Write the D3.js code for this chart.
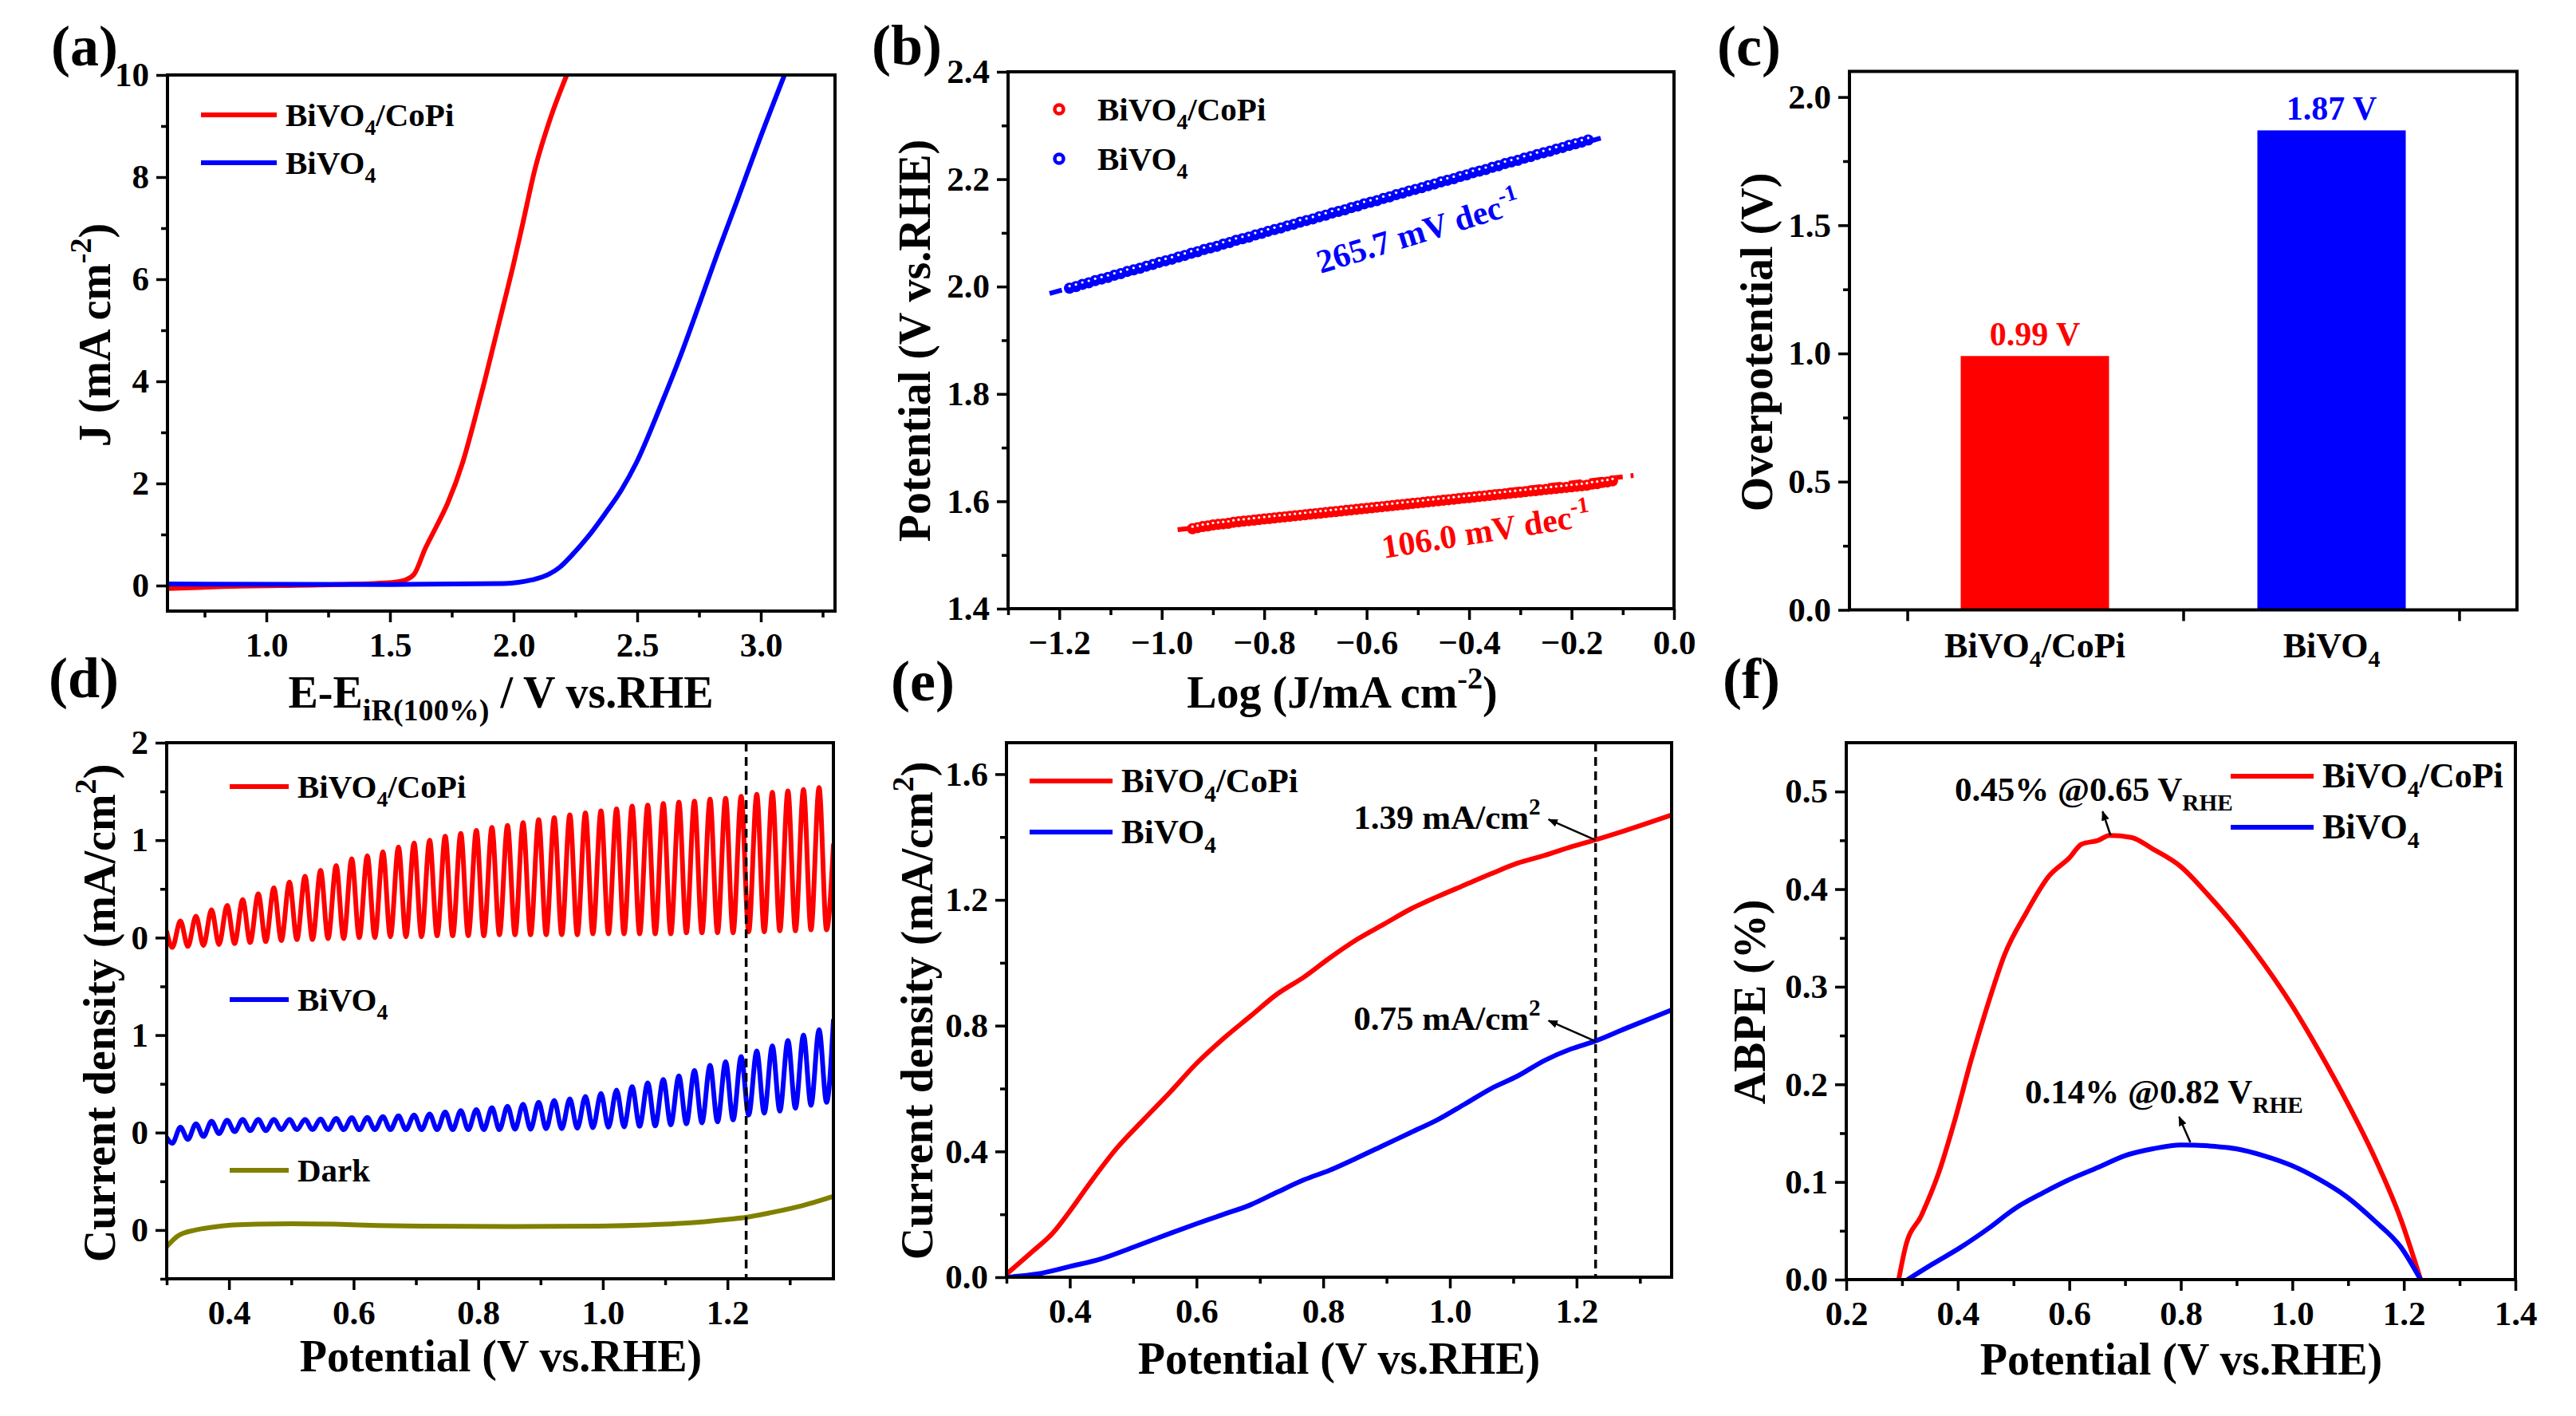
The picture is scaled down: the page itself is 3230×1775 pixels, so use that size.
<!DOCTYPE html>
<html>
<head>
<meta charset="utf-8">
<script src="https://cdn.jsdelivr.net/npm/d3@7"></script>
<style>body{margin:0;background:#fff}</style>
</head>
<body>
<div id="fig"></div>
<script>
// ---------- data ----------
// (a) LSV, J vs E-EiR
const lsvRedV  = [0.6, 0.825, 1.28, 1.506, 1.55, 1.597, 1.642, 1.688, 1.733, 1.794, 1.838, 1.881, 1.921, 1.961, 2.0, 2.037, 2.085, 2.150, 2.215];
const lsvRedJ  = [-0.06, -0.02, 0.02, 0.06, 0.09, 0.22, 0.72, 1.16, 1.61, 2.41, 3.17, 3.97, 4.75, 5.53, 6.30, 7.09, 8.13, 9.17, 10.0];
const lsvBlueV = [0.6, 1.506, 1.96, 2.074, 2.142, 2.187, 2.233, 2.30, 2.369, 2.437, 2.497, 2.593, 2.679, 2.754, 2.824, 2.905, 2.992, 3.094];
const lsvBlueJ = [0.03, 0.02, 0.04, 0.11, 0.22, 0.36, 0.58, 0.95, 1.40, 1.88, 2.41, 3.50, 4.55, 5.55, 6.50, 7.55, 8.70, 9.98];

// (b) Tafel
const tafBlueLogJ = [-1.18, -1.1675, -1.155, -1.1425, -1.13, -1.1175, -1.105, -1.0925, -1.08, -1.0675, -1.055, -1.0425, -1.03, -1.0175, -1.005, -0.9925, -0.98, -0.9675, -0.955, -0.9425, -0.93, -0.9175, -0.905, -0.8925, -0.88, -0.8675, -0.855, -0.8425, -0.83, -0.8175, -0.805, -0.7925, -0.78, -0.7675, -0.755, -0.7425, -0.73, -0.7175, -0.705, -0.6925, -0.68, -0.6675, -0.655, -0.6425, -0.63, -0.6175, -0.605, -0.5925, -0.58, -0.5675, -0.555, -0.5425, -0.53, -0.5175, -0.505, -0.4925, -0.48, -0.4675, -0.455, -0.4425, -0.43, -0.4175, -0.405, -0.3925, -0.38, -0.3675, -0.355, -0.3425, -0.33, -0.3175, -0.305, -0.2925, -0.28, -0.2675, -0.255, -0.2425, -0.23, -0.2175, -0.205, -0.1925, -0.18, -0.1675];
const tafBlueE    = [1.997, 2.000, 2.004, 2.007, 2.011, 2.014, 2.017, 2.021, 2.024, 2.028, 2.031, 2.034, 2.038, 2.041, 2.045, 2.048, 2.051, 2.055, 2.058, 2.062, 2.065, 2.069, 2.072, 2.075, 2.079, 2.082, 2.086, 2.089, 2.092, 2.096, 2.099, 2.103, 2.106, 2.109, 2.113, 2.116, 2.120, 2.123, 2.126, 2.130, 2.133, 2.137, 2.140, 2.143, 2.147, 2.150, 2.154, 2.157, 2.160, 2.164, 2.167, 2.171, 2.174, 2.178, 2.181, 2.184, 2.188, 2.191, 2.195, 2.198, 2.201, 2.205, 2.208, 2.212, 2.215, 2.218, 2.222, 2.225, 2.229, 2.232, 2.235, 2.239, 2.242, 2.246, 2.249, 2.252, 2.256, 2.259, 2.263, 2.266, 2.269, 2.273];
const tafRedLogJ  = [-0.94, -0.93, -0.92, -0.91, -0.90, -0.89, -0.88, -0.87, -0.86, -0.85, -0.84, -0.83, -0.82, -0.81, -0.80, -0.79, -0.78, -0.77, -0.76, -0.75, -0.74, -0.73, -0.72, -0.71, -0.70, -0.69, -0.68, -0.67, -0.66, -0.65, -0.64, -0.63, -0.62, -0.61, -0.60, -0.59, -0.58, -0.57, -0.56, -0.55, -0.54, -0.53, -0.52, -0.51, -0.50, -0.49, -0.48, -0.47, -0.46, -0.45, -0.44, -0.43, -0.42, -0.41, -0.40, -0.39, -0.38, -0.37, -0.36, -0.35, -0.34, -0.33, -0.32, -0.31, -0.30, -0.29, -0.28, -0.27, -0.26, -0.25, -0.24, -0.23, -0.22, -0.21, -0.20, -0.19, -0.18, -0.17, -0.16, -0.15, -0.14, -0.13, -0.12];
const tafRedE     = [1.549, 1.551, 1.553, 1.554, 1.556, 1.557, 1.558, 1.559, 1.561, 1.562, 1.563, 1.564, 1.565, 1.566, 1.567, 1.568, 1.569, 1.570, 1.571, 1.572, 1.573, 1.574, 1.575, 1.576, 1.577, 1.578, 1.579, 1.580, 1.581, 1.582, 1.583, 1.584, 1.585, 1.586, 1.587, 1.588, 1.589, 1.590, 1.591, 1.592, 1.593, 1.594, 1.595, 1.596, 1.597, 1.598, 1.599, 1.600, 1.601, 1.602, 1.603, 1.604, 1.605, 1.606, 1.607, 1.608, 1.609, 1.610, 1.611, 1.612, 1.613, 1.614, 1.615, 1.616, 1.617, 1.618, 1.619, 1.620, 1.621, 1.622, 1.623, 1.624, 1.625, 1.626, 1.627, 1.628, 1.629, 1.630, 1.632, 1.633, 1.635, 1.636, 1.638];
const fitBlue = [[-1.219, 1.987], [-0.141, 2.277]];
const fitRed  = [[-0.969, 1.547], [-0.079, 1.648]];
const tafelLabels = ['265.7 mV dec', '106.0 mV dec'];

// (c) overpotential
const barNames  = ['BiVO4/CoPi', 'BiVO4'];
const barValues = [0.99, 1.87];
const barLabels = ['0.99 V', '1.87 V'];

// (d) chopped LSV (offset plot)
const chopPeakV   = [0.322, 0.347, 0.372, 0.397, 0.422, 0.447, 0.472, 0.497, 0.522, 0.547, 0.572, 0.597, 0.622, 0.647, 0.672, 0.697, 0.722, 0.747, 0.772, 0.797, 0.822, 0.847, 0.872, 0.897, 0.922, 0.947, 0.972, 0.997, 1.022, 1.047, 1.072, 1.097, 1.122, 1.147, 1.172, 1.197, 1.222, 1.247, 1.272, 1.297, 1.322, 1.347];
const chopValleyV = [0.309, 0.334, 0.359, 0.384, 0.409, 0.434, 0.459, 0.484, 0.509, 0.534, 0.559, 0.584, 0.609, 0.634, 0.659, 0.684, 0.709, 0.734, 0.759, 0.784, 0.809, 0.834, 0.859, 0.884, 0.909, 0.934, 0.959, 0.984, 1.009, 1.034, 1.059, 1.084, 1.109, 1.134, 1.159, 1.184, 1.209, 1.234, 1.259, 1.284, 1.309, 1.334, 1.359];
const chopRedPeak  = [0.17, 0.22, 0.285, 0.33, 0.39, 0.45, 0.51, 0.57, 0.63, 0.69, 0.74, 0.81, 0.84, 0.88, 0.93, 0.97, 1.00, 1.04, 1.07, 1.10, 1.13, 1.15, 1.18, 1.21, 1.23, 1.26, 1.28, 1.30, 1.32, 1.35, 1.36, 1.375, 1.39, 1.40, 1.42, 1.43, 1.45, 1.47, 1.49, 1.505, 1.52, 1.54];
const chopRedValley = [-0.10, -0.09, -0.08, -0.07, -0.06, -0.05, -0.04, -0.03, -0.02, -0.02, -0.01, -0.01, 0.00, 0.00, 0.01, 0.01, 0.01, 0.02, 0.02, 0.02, 0.02, 0.03, 0.03, 0.03, 0.03, 0.03, 0.03, 0.04, 0.04, 0.04, 0.04, 0.04, 0.04, 0.05, 0.05, 0.05, 0.05, 0.06, 0.06, 0.07, 0.07, 0.08, 0.08];
const chopBluePeak = [0.055, 0.09, 0.116, 0.127, 0.135, 0.135, 0.135, 0.135, 0.135, 0.138, 0.145, 0.153, 0.156, 0.164, 0.171, 0.18, 0.19, 0.21, 0.225, 0.236, 0.255, 0.27, 0.29, 0.31, 0.33, 0.345, 0.37, 0.40, 0.436, 0.47, 0.51, 0.545, 0.58, 0.636, 0.69, 0.727, 0.78, 0.836, 0.89, 0.945, 1.0, 1.055];
const chopBlueValley = [-0.11, -0.07, -0.04, -0.01, 0.01, 0.02, 0.02, 0.03, 0.03, 0.03, 0.03, 0.03, 0.03, 0.03, 0.03, 0.03, 0.03, 0.03, 0.03, 0.03, 0.03, 0.03, 0.035, 0.035, 0.04, 0.04, 0.045, 0.05, 0.055, 0.06, 0.065, 0.07, 0.08, 0.09, 0.10, 0.11, 0.13, 0.18, 0.20, 0.22, 0.25, 0.28, 0.31];
const chopEnds = {start: 0.30, end: 1.37, redStart: 0.06, redEnd: 0.95, blueStart: -0.05, blueEnd: 1.15};
const darkV = [0.30, 0.318, 0.346, 0.374, 0.402, 0.444, 0.50, 0.57, 0.64, 0.71, 0.85, 0.99, 1.061, 1.131, 1.201, 1.229, 1.271, 1.32, 1.367];
const darkJ = [-0.17, -0.06, 0.0, 0.03, 0.05, 0.06, 0.065, 0.06, 0.047, 0.04, 0.036, 0.04, 0.05, 0.07, 0.11, 0.13, 0.18, 0.25, 0.34];
const dOffset = {dark: 0, blue: 1, red: 3};
const dTickLabels = ['0', '0', '1', '0', '1', '2'];

// (e) LSV under light
const eRedV  = [0.3, 0.34, 0.373, 0.4, 0.432, 0.474, 0.516, 0.559, 0.60, 0.643, 0.685, 0.727, 0.77, 0.81, 0.854, 0.896, 0.938, 0.98, 1.023, 1.065, 1.107, 1.15, 1.19, 1.228, 1.276, 1.35];
const eRedJ  = [0.01, 0.08, 0.14, 0.21, 0.30, 0.41, 0.50, 0.59, 0.68, 0.76, 0.83, 0.90, 0.955, 1.015, 1.075, 1.123, 1.171, 1.21, 1.247, 1.283, 1.317, 1.342, 1.368, 1.39, 1.42, 1.47];
const eBlueV = [0.3, 0.348, 0.4, 0.449, 0.5, 0.559, 0.60, 0.643, 0.685, 0.727, 0.77, 0.81, 0.854, 0.896, 0.938, 0.98, 1.023, 1.065, 1.107, 1.15, 1.19, 1.228, 1.276, 1.35];
const eBlueJ = [0.0, 0.01, 0.034, 0.058, 0.095, 0.14, 0.17, 0.20, 0.23, 0.27, 0.31, 0.34, 0.38, 0.42, 0.46, 0.50, 0.55, 0.60, 0.64, 0.69, 0.725, 0.75, 0.79, 0.85];
const eMarks = [{v: 1.23, j: 1.39, label: '1.39 mA/cm'}, {v: 1.23, j: 0.75, label: '0.75 mA/cm'}];

// (f) ABPE
const fRedV  = [0.294, 0.306, 0.335, 0.365, 0.395, 0.424, 0.454, 0.484, 0.523, 0.563, 0.60, 0.622, 0.652, 0.672, 0.711, 0.75, 0.80, 0.849, 0.899, 0.948, 0.998, 1.047, 1.097, 1.146, 1.195, 1.23];
const fRedA  = [0, 0.033, 0.066, 0.108, 0.164, 0.225, 0.282, 0.333, 0.376, 0.413, 0.432, 0.446, 0.45, 0.455, 0.453, 0.441, 0.423, 0.394, 0.361, 0.324, 0.282, 0.235, 0.183, 0.127, 0.061, 0.0];
const fBlueV = [0.31, 0.355, 0.405, 0.454, 0.503, 0.553, 0.602, 0.652, 0.70, 0.75, 0.80, 0.849, 0.899, 0.948, 0.998, 1.047, 1.097, 1.146, 1.195, 1.23];
const fBlueA = [0, 0.016, 0.033, 0.052, 0.073, 0.089, 0.103, 0.115, 0.127, 0.134, 0.138, 0.137, 0.134, 0.127, 0.117, 0.103, 0.085, 0.061, 0.033, 0.0];
const fMarks = [{v: 0.674, a: 0.455, main: '0.45% @0.65 V'}, {v: 0.817, a: 0.1406, main: '0.14% @0.82 V'}];

// ---------- drawing ----------
const W = 3230, H = 1775;
const FONT = '"Liberation Serif","Times New Roman",serif';
const RED = '#ff0000', BLUE = '#0000ff', OLIVE = '#808000';
const LW = 6;

const svg = d3.select('#fig').append('svg')
    .attr('width', W).attr('height', H)
    .style('font-family', FONT).style('font-weight', 'bold');
svg.append('rect').attr('width', W).attr('height', H).attr('fill', '#fff');

const defs = svg.append('defs');
defs.append('marker')
    .attr('id', 'arr').attr('viewBox', '0 0 10 10')
    .attr('refX', 9).attr('refY', 5)
    .attr('markerWidth', 5).attr('markerHeight', 5)
    .attr('orient', 'auto')
  .append('path').attr('d', 'M0,1 L10,5 L0,9 z').attr('fill', '#000');

// text with sub/superscripts: parts = [[text, 'sub'|'sup'|undefined], ...]
function rich(sel, parts, fs) {
    let shift = 0;
    parts.forEach(([t, m]) => {
        const target = m === 'sub' ? 0.28 * fs : (m === 'sup' ? -0.42 * fs : 0);
        sel.append('tspan')
            .attr('dy', target - shift)
            .attr('font-size', m ? fs * 0.68 : fs)
            .text(t);
        shift = target;
    });
    return sel;
}

const BiVO4CoPi = [['BiVO'], ['4', 'sub'], ['/CoPi']];
const BiVO4 = [['BiVO'], ['4', 'sub']];

let clipId = 0;
function makePanel(box, xDom, yDom) {
    const g = svg.append('g');
    const x = d3.scaleLinear().domain(xDom).range([box.x0, box.x1]);
    const y = d3.scaleLinear().domain(yDom).range([box.y1, box.y0]);
    const id = 'clip' + (clipId++);
    defs.append('clipPath').attr('id', id).append('rect')
        .attr('x', box.x0).attr('y', box.y0)
        .attr('width', box.x1 - box.x0).attr('height', box.y1 - box.y0);
    const plot = g.append('g').attr('clip-path', `url(#${id})`);
    return {g, x, y, box, plot};
}

function styleAxis(a) {
    a.attr('font-family', FONT).attr('font-size', 43).attr('font-weight', 'bold');
    a.select('.domain').remove();
    a.selectAll('.tick line').attr('stroke', '#000').attr('stroke-width', 3.5);
    a.selectAll('.tick text').attr('fill', '#000');
}

function drawAxes(P, xt, yt) {
    const {g, x, y, box} = P;
    if (xt) {
        const ax = g.append('g').attr('transform', `translate(0,${box.y1})`)
            .call(d3.axisBottom(x).tickValues(xt.major).tickSize(14).tickPadding(12)
                .tickFormat(xt.fmt || (() => '')));
        styleAxis(ax);
        const mx = g.append('g').attr('transform', `translate(0,${box.y1})`)
            .call(d3.axisBottom(x).tickValues(xt.minor).tickSize(8).tickFormat(''));
        styleAxis(mx);
    }
    const ay = g.append('g').attr('transform', `translate(${box.x0},0)`)
        .call(d3.axisLeft(y).tickValues(yt.major).tickSize(14).tickPadding(9).tickFormat(yt.fmt));
    styleAxis(ay);
    const my = g.append('g').attr('transform', `translate(${box.x0},0)`)
        .call(d3.axisLeft(y).tickValues(yt.minor).tickSize(8).tickFormat(''));
    styleAxis(my);
    g.append('rect')
        .attr('x', box.x0).attr('y', box.y0)
        .attr('width', box.x1 - box.x0).attr('height', box.y1 - box.y0)
        .attr('fill', 'none').attr('stroke', '#000').attr('stroke-width', 4);
}

function xTitle(P, cx, baseline, parts) {
    rich(P.g.append('text').attr('x', cx).attr('y', baseline).attr('text-anchor', 'middle').attr('font-size', 56), parts, 56);
}
function yTitle(P, bx, cy, parts) {
    rich(P.g.append('text').attr('transform', `translate(${bx},${cy}) rotate(-90)`).attr('text-anchor', 'middle').attr('font-size', 56), parts, 56);
}
function panelLabel(txt, px, py) {
    svg.append('text').attr('x', px).attr('y', py).attr('font-size', 72).text(txt);
}
function legendLine(P, x0, x1, yy, color, parts, fs) {
    fs = fs || 41;
    P.g.append('line').attr('x1', x0).attr('x2', x1).attr('y1', yy).attr('y2', yy)
        .attr('stroke', color).attr('stroke-width', LW);
    rich(P.g.append('text').attr('x', x1 + 11).attr('y', yy + 14).attr('font-size', fs), parts, fs);
}
function drawLine(P, xs, ys, color, width, yOff) {
    const pts = xs.map((v, i) => [v, ys[i] + (yOff || 0)]);
    P.plot.append('path').datum(pts)
        .attr('d', d3.line().x(d => P.x(d[0])).y(d => P.y(d[1])).curve(d3.curveMonotoneX))
        .attr('fill', 'none').attr('stroke', color).attr('stroke-width', width)
        .attr('stroke-linejoin', 'round').attr('stroke-linecap', 'round');
}

const f1 = d3.format('.1f');

// ---- (a) ----
const A = makePanel({x0: 210, x1: 1047, y0: 94, y1: 766}, [0.6, 3.3], [-0.5, 10]);
drawLine(A, lsvRedV, lsvRedJ, RED, LW);
drawLine(A, lsvBlueV, lsvBlueJ, BLUE, LW);
drawAxes(A,
    {major: [1.0, 1.5, 2.0, 2.5, 3.0], minor: [0.75, 1.25, 1.75, 2.25, 2.75, 3.25], fmt: f1},
    {major: [0, 2, 4, 6, 8, 10], minor: [1, 3, 5, 7, 9], fmt: d3.format('d')});
legendLine(A, 252, 347, 144, RED, BiVO4CoPi);
legendLine(A, 252, 347, 204, BLUE, BiVO4);
xTitle(A, 628, 887, [['E-E'], ['iR(100%)', 'sub'], [' / V vs.RHE']]);
yTitle(A, 138, 420, [['J (mA cm'], ['-2', 'sup'], [')']]);
panelLabel('(a)', 64, 82);

// ---- (b) ----
const B = makePanel({x0: 1264, x1: 2099, y0: 90, y1: 763}, [-1.3, 0.0], [1.4, 2.4]);
[[fitBlue, BLUE], [fitRed, RED]].forEach(([fit, c]) => {
    B.plot.append('line')
        .attr('x1', B.x(fit[0][0])).attr('y1', B.y(fit[0][1]))
        .attr('x2', B.x(fit[1][0])).attr('y2', B.y(fit[1][1]))
        .attr('stroke', c).attr('stroke-width', 6).attr('stroke-dasharray', '16,10');
});
[[tafBlueLogJ, tafBlueE, BLUE], [tafRedLogJ, tafRedE, RED]].forEach(([xs, ys, c]) => {
    const pts = xs.map((v, i) => [v, ys[i]]);
    B.plot.selectAll(null).data(pts).enter().append('circle')
        .attr('cx', d => B.x(d[0])).attr('cy', d => B.y(d[1])).attr('r', 7)
        .attr('fill', c);
    // open-symbol centres show as small white specks along the band
    B.plot.selectAll(null).data(pts).enter().append('circle')
        .attr('cx', d => B.x(d[0])).attr('cy', d => B.y(d[1]) - 2.5).attr('r', 1.6)
        .attr('fill', '#fff');
});
drawAxes(B,
    {major: [-1.2, -1.0, -0.8, -0.6, -0.4, -0.2, 0.0], minor: [-1.3, -1.1, -0.9, -0.7, -0.5, -0.3, -0.1], fmt: f1},
    {major: [1.4, 1.6, 1.8, 2.0, 2.2, 2.4], minor: [1.5, 1.7, 1.9, 2.1, 2.3], fmt: f1});
[[137, RED, BiVO4CoPi], [199, BLUE, BiVO4]].forEach(([yy, c, parts]) => {
    B.g.append('circle').attr('cx', 1328).attr('cy', yy).attr('r', 5.5)
        .attr('fill', '#fff').attr('stroke', c).attr('stroke-width', 4.5);
    rich(B.g.append('text').attr('x', 1376).attr('y', yy + 14).attr('font-size', 41), parts, 41);
});
rich(B.g.append('text').attr('transform', 'translate(1656,343) rotate(-17)').attr('fill', BLUE).attr('font-size', 42),
    [[tafelLabels[0]], ['-1', 'sup']], 42);
rich(B.g.append('text').attr('transform', 'translate(1735,700) rotate(-9)').attr('fill', RED).attr('font-size', 42),
    [[tafelLabels[1]], ['-1', 'sup']], 42);
xTitle(B, 1683, 887, [['Log (J/mA cm'], ['-2', 'sup'], [')']]);
yTitle(B, 1166, 427, [['Potential (V vs.RHE)']]);
panelLabel('(b)', 1093, 81);

// ---- (c) ----
const C = makePanel({x0: 2319, x1: 3156, y0: 89.5, y1: 764.5}, [0.375, 2.625], [0, 2.1]);
const barColors = [RED, BLUE];
C.plot.selectAll('rect.bar').data(barValues).enter().append('rect')
    .attr('class', 'bar')
    .attr('x', (d, i) => C.x(i + 1 - 0.25)).attr('width', C.x(1.25) - C.x(0.75))
    .attr('y', d => C.y(d)).attr('height', d => C.y(0) - C.y(d))
    .attr('fill', (d, i) => barColors[i]);
drawAxes(C,
    {major: [0.57, 1.5, 2.43], minor: []},
    {major: [0, 0.5, 1.0, 1.5, 2.0], minor: [0.25, 0.75, 1.25, 1.75], fmt: f1});
barValues.forEach((v, i) => {
    C.g.append('text').attr('x', C.x(i + 1)).attr('y', C.y(v) - 13)
        .attr('text-anchor', 'middle').attr('font-size', 42).attr('fill', barColors[i]).text(barLabels[i]);
});
[BiVO4CoPi, BiVO4].forEach((parts, i) => {
    rich(C.g.append('text').attr('x', C.x(i + 1)).attr('y', 824).attr('text-anchor', 'middle').attr('font-size', 44), parts, 44);
});
yTitle(C, 2222, 429, [['Overpotential (V)']]);
panelLabel('(c)', 2153, 82);

// ---- (d) ----
const D = makePanel({x0: 209, x1: 1045, y0: 931, y1: 1603}, [0.3, 1.37], [-0.5, 5.0]);
function chopSeries(peak, valley, startJ, endJ) {
    const xs = [chopEnds.start], ys = [startJ];
    chopValleyV.forEach((v, i) => {
        xs.push(v); ys.push(valley[i]);
        if (i < chopPeakV.length) { xs.push(chopPeakV[i]); ys.push(peak[i]); }
    });
    xs.push(chopEnds.end); ys.push(endJ);
    return [xs, ys];
}
const redChop = chopSeries(chopRedPeak, chopRedValley, chopEnds.redStart, chopEnds.redEnd);
const blueChop = chopSeries(chopBluePeak, chopBlueValley, chopEnds.blueStart, chopEnds.blueEnd);
drawLine(D, darkV, darkJ, OLIVE, LW, dOffset.dark);
drawLine(D, blueChop[0], blueChop[1], BLUE, LW, dOffset.blue);
drawLine(D, redChop[0], redChop[1], RED, LW, dOffset.red);
D.plot.append('line').attr('x1', D.x(1.23)).attr('x2', D.x(1.23)).attr('y1', D.box.y0).attr('y2', D.box.y1)
    .attr('stroke', '#000').attr('stroke-width', 3.5).attr('stroke-dasharray', '11,7');
drawAxes(D,
    {major: [0.4, 0.6, 0.8, 1.0, 1.2], minor: [0.3, 0.5, 0.7, 0.9, 1.1, 1.3], fmt: f1},
    {major: [0, 1, 2, 3, 4, 5], minor: [-0.5, 0.5, 1.5, 2.5, 3.5, 4.5], fmt: (d, i) => dTickLabels[i]});
legendLine(D, 288, 362, 986, RED, BiVO4CoPi);
legendLine(D, 288, 362, 1253, BLUE, BiVO4);
legendLine(D, 288, 362, 1467, OLIVE, [['Dark']]);
xTitle(D, 628, 1719, [['Potential (V vs.RHE)']]);
yTitle(D, 144, 1270, [['Current density (mA/cm'], ['2', 'sup'], [')']]);
panelLabel('(d)', 61, 874);

// ---- (e) ----
const E = makePanel({x0: 1262, x1: 2096, y0: 931, y1: 1601}, [0.3, 1.35], [0, 1.7]);
drawLine(E, eRedV, eRedJ, RED, LW);
drawLine(E, eBlueV, eBlueJ, BLUE, LW);
E.plot.append('line').attr('x1', E.x(1.23)).attr('x2', E.x(1.23)).attr('y1', E.box.y0).attr('y2', E.box.y1)
    .attr('stroke', '#000').attr('stroke-width', 3.5).attr('stroke-dasharray', '11,7');
drawAxes(E,
    {major: [0.4, 0.6, 0.8, 1.0, 1.2], minor: [0.3, 0.5, 0.7, 0.9, 1.1, 1.3], fmt: f1},
    {major: [0, 0.4, 0.8, 1.2, 1.6], minor: [0.2, 0.6, 1.0, 1.4], fmt: f1});
eMarks.forEach(m => {
    const sx = E.x(m.v), sy = E.y(m.j);
    const tx = sx - 59, ty = sy - 26;
    E.g.append('line').attr('x1', sx).attr('y1', sy).attr('x2', tx).attr('y2', ty)
        .attr('stroke', '#000').attr('stroke-width', 2.5).attr('marker-end', 'url(#arr)');
    rich(E.g.append('text').attr('x', tx - 10).attr('y', ty + 12).attr('text-anchor', 'end').attr('font-size', 43),
        [[m.label], ['2', 'sup']], 43);
});
legendLine(E, 1291, 1395, 979, RED, BiVO4CoPi, 43);
legendLine(E, 1291, 1395, 1043, BLUE, BiVO4, 43);
xTitle(E, 1679, 1722, [['Potential (V vs.RHE)']]);
yTitle(E, 1169, 1267, [['Current density (mA/cm'], ['2', 'sup'], [')']]);
panelLabel('(e)', 1117, 878);

// ---- (f) ----
const F = makePanel({x0: 2315, x1: 3154, y0: 931, y1: 1604}, [0.2, 1.4], [0, 0.55]);
drawLine(F, fRedV, fRedA, RED, LW);
drawLine(F, fBlueV, fBlueA, BLUE, LW);
drawAxes(F,
    {major: [0.2, 0.4, 0.6, 0.8, 1.0, 1.2, 1.4], minor: [0.3, 0.5, 0.7, 0.9, 1.1, 1.3], fmt: f1},
    {major: [0, 0.1, 0.2, 0.3, 0.4, 0.5], minor: [0.05, 0.15, 0.25, 0.35, 0.45], fmt: f1});
const fOff = [{dx: -10, dy: -30, tx: -21, ty: -43}, {dx: -14, dy: -32, tx: -33, ty: -49}];
fMarks.forEach((m, i) => {
    const sx = F.x(m.v), sy = F.y(m.a);
    const o = fOff[i];
    F.g.append('line').attr('x1', sx).attr('y1', sy).attr('x2', sx + o.dx).attr('y2', sy + o.dy)
        .attr('stroke', '#000').attr('stroke-width', 2.5).attr('marker-end', 'url(#arr)');
    rich(F.g.append('text').attr('x', sx + o.tx).attr('y', sy + o.ty).attr('text-anchor', 'middle').attr('font-size', 43),
        [[m.main], ['RHE', 'sub']], 43);
});
legendLine(F, 2797, 2901, 973, RED, BiVO4CoPi, 44);
legendLine(F, 2797, 2901, 1037, BLUE, BiVO4, 44);
xTitle(F, 2735, 1723, [['Potential (V vs.RHE)']]);
yTitle(F, 2213, 1256, [['ABPE (%)']]);
panelLabel('(f)', 2160, 875);
</script>
</body>
</html>
